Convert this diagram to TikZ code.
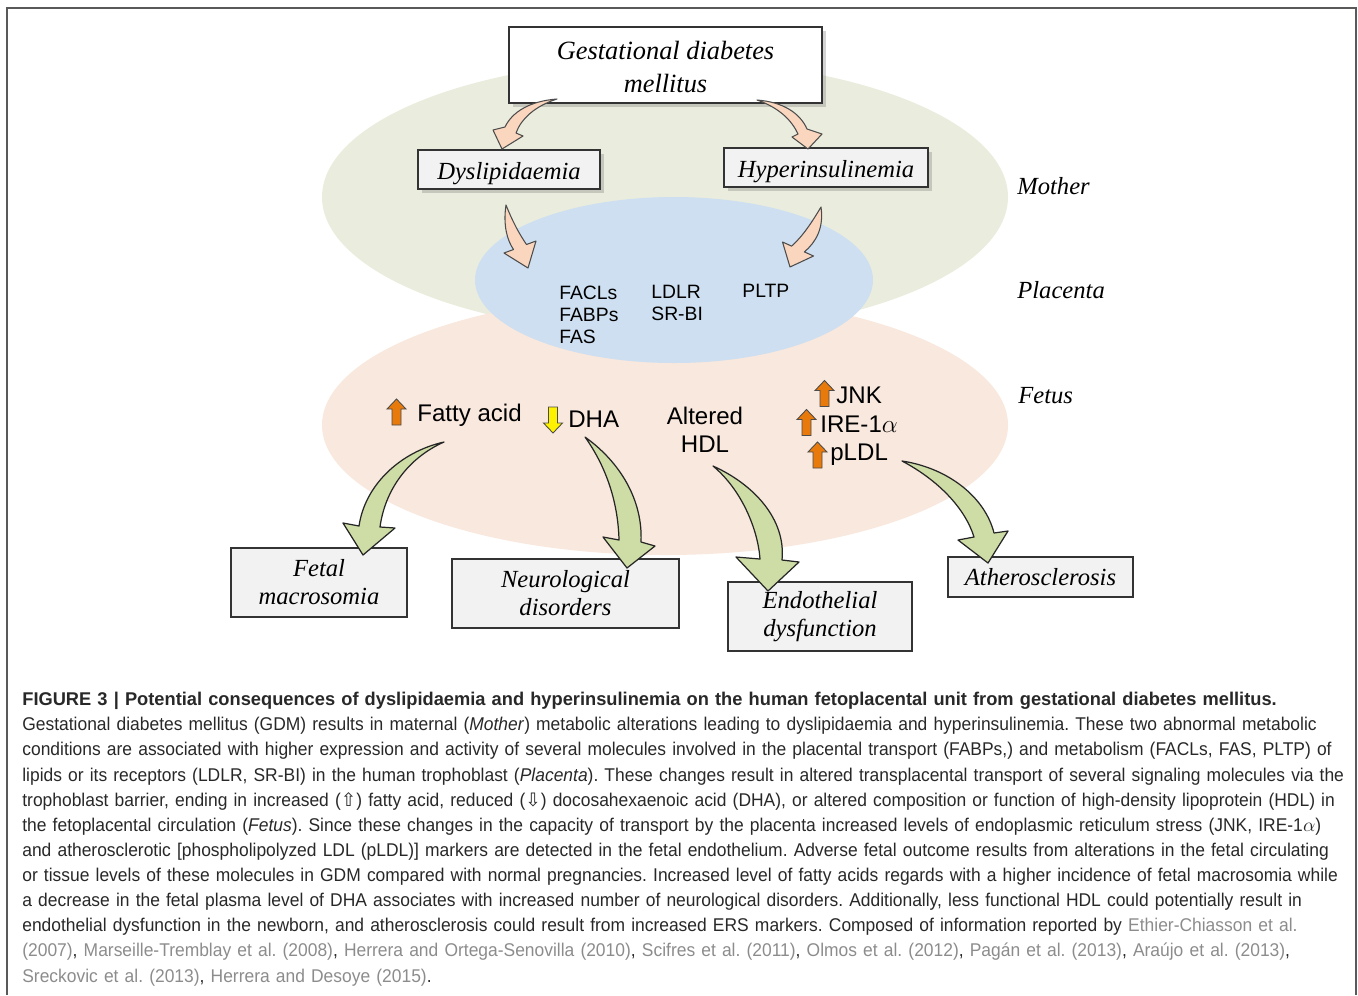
\documentclass[tikz,border=0pt]{standalone}
\usepackage{fontspec}
\setmainfont{Liberation Serif}
\setsansfont{Liberation Sans}
\newfontfamily\capfont[FakeStretch=0.945]{Liberation Sans}
\newfontfamily\capbold[FakeStretch=0.99]{Liberation Sans Bold}
\newfontfamily\symbfont{DejaVu Sans}
\usetikzlibrary{shadows}
\definecolor{motherbg}{RGB}{234,237,221}
\definecolor{fetusbg}{RGB}{249,232,221}
\definecolor{placentabg}{RGB}{205,223,240}
\definecolor{peachfill}{RGB}{250,214,190}
\definecolor{greenfill}{RGB}{206,220,166}
\definecolor{upcol}{RGB}{232,122,12}
\definecolor{refgray}{RGB}{140,140,140}
\definecolor{captext}{RGB}{40,40,40}
\newlength{\px}\setlength{\px}{0.02cm}
\newcommand{\rf}[1]{\textcolor{refgray}{#1}}
\newcommand{\lowtext}[2]{\raisebox{-#1}[9pt][3pt]{#2}}

\tikzset{
  boxshadow/.style={drop shadow={opacity=0.35,shadow xshift=2.5pt,shadow yshift=-2.5pt}},
  gdmbox/.style={draw=black!80, fill=white, line width=0.8pt, align=center, boxshadow,
    font=\fontsize{15}{18.8}\selectfont\itshape, minimum width=313\px, minimum height=76\px},
  midbox/.style={draw=black!80, fill=black!5, line width=0.8pt, align=center, boxshadow,
    font=\fontsize{14}{16}\selectfont\itshape, minimum height=39\px},
  outbox/.style={draw=black!80, fill=black!5, line width=0.6pt, align=center,
    font=\fontsize{14}{16}\selectfont\itshape, minimum height=69\px},
  sidelabel/.style={anchor=west, inner sep=0pt, font=\fontsize{14}{16}\selectfont\itshape},
  molsmall/.style={inner sep=0pt, align=left, font=\sffamily\fontsize{11}{12.5}\selectfont},
  molbig/.style={inner sep=0pt, align=center, font=\sffamily\fontsize{13.7}{16}\selectfont},
  peachflow/.style={fill=peachfill, draw=black!70, line width=0.6pt, line join=round},
  greenflow/.style={fill=greenfill, draw=black!85, line width=0.7pt, line join=round},
  upblock/.pic={\filldraw[pic actions] (0,-13) -- (9.5,-3) -- (4.5,-3) -- (4.5,13)
    -- (-4.5,13) -- (-4.5,-3) -- (-9.5,-3) -- cycle;}
}

\begin{document}
\begin{tikzpicture}[x=0.02cm, y=-0.02cm]
\useasboundingbox (0,0) rectangle (1358,995);
% frame
\draw[black!65, line width=1pt] (7,995) -- (7,8) -- (1356,8) -- (1356,995);

% compartments
\fill[motherbg] (665,197) ellipse [x radius=343, y radius=137];
\fill[fetusbg] (665,425) ellipse [x radius=343, y radius=130];
\fill[placentabg] (674,280) ellipse [x radius=199, y radius=83];

\node[sidelabel] (mother) at (1017,186) {Mother};
\node[sidelabel] (placenta) at (1017,290) {Placenta};
\node[sidelabel] (fetus) at (1018,396) {Fetus};

% mother level
\node[gdmbox] (gdm) at (665.5,65) {\strut Gestational diabetes\\mellitus};
\node[midbox, minimum width=182\px] (dysl) at (509,169.5) {\lowtext{2.8pt}{Dyslipidaemia}};
\node[midbox, minimum width=204\px] (hyper) at (826,167.5) {\lowtext{2.8pt}{Hyperinsulinemia}};

\filldraw[peachflow] (557,99) .. controls (530,101) and (512,112) .. (505,127) -- (493,130)
  -- (502,149) -- (523,136) -- (516,133) .. controls (521,119) and (535,106) .. (557,99) -- cycle;
\filldraw[peachflow] (757,100) .. controls (783,102) and (800,113) .. (807,129) -- (822,134)
  -- (808,149) -- (792,137) -- (798,134) .. controls (792,121) and (780,108) .. (757,100) -- cycle;
\filldraw[peachflow] (506,205) .. controls (503,225) and (507,240) .. (513.5,249.5) -- (504,253)
  -- (528,268) -- (536,241) -- (526.5,244.5) .. controls (518,232) and (512,220) .. (506,205) -- cycle;
\filldraw[peachflow] (821,207) .. controls (824,228) and (816,242) .. (804.4,251.9) -- (813.5,256)
  -- (790,267) -- (782.5,242) -- (791.6,246.1) .. controls (803,236) and (812,222) .. (821,207) -- cycle;

% placenta
\node[molsmall, anchor=west] (fa) at (559,314.5) {FACLs\\FABPs\\FAS};
\node[molsmall, anchor=west] (ldlr) at (651,303) {LDLR\\SR-BI};
\node[molsmall, anchor=west] (pltp) at (742,291) {PLTP};

% fetus
\pic[fill=upcol, draw=black!70, line width=0.5pt] at (396.5,412) {upblock};
\node[molbig, anchor=west] (fatty) at (417,415) {Fatty acid};
\pic[fill=yellow, draw=black!70, line width=0.5pt, rotate=180] at (553,420) {upblock};
\node[molbig, anchor=west] (dha) at (568,419) {DHA};
\node[molbig] (hdl) at (705,430) {Altered\\HDL};
\pic[fill=upcol, draw=black!70, line width=0.5pt] at (824.5,393.5) {upblock};
\node[molbig, anchor=west] (jnk) at (836,395) {JNK};
\pic[fill=upcol, draw=black!70, line width=0.5pt] at (806.5,422.5) {upblock};
\node[molbig, anchor=west] (ire) at (820,424) {IRE-1$\alpha$};
\pic[fill=upcol, draw=black!70, line width=0.5pt] at (817.5,455) {upblock};
\node[molbig, anchor=west] (pldl) at (830,455) {pLDL};

% outcomes
\node[outbox, minimum width=176\px] (macro) at (319,582.5) {Fetal\\macrosomia};
\node[outbox, minimum width=227\px] (neuro) at (565.5,593.5) {Neurological\\disorders};
\node[outbox, minimum width=184\px] (endo) at (820,616.5) {Endothelial\\dysfunction};
\node[outbox, minimum width=185\px, minimum height=40\px] (athero) at (1040.5,577) {\lowtext{1.7pt}{Atherosclerosis}};

\filldraw[greenflow] (444,442) .. controls (400,452) and (365,485) .. (359,526) -- (343,523)
  -- (363,555) -- (395,528) -- (380,527) .. controls (385,490) and (408,458) .. (444,442) -- cycle;
\filldraw[greenflow] (585,437) .. controls (620,462) and (643,500) .. (641,542) -- (655,546)
  -- (627,568) -- (603,537) -- (619,540) .. controls (618,500) and (605,465) .. (585,437) -- cycle;
\filldraw[greenflow] (713,466) .. controls (755,485) and (786,520) .. (782,560) -- (799,562)
  -- (768,591) -- (736,557) -- (760,559) .. controls (758,530) and (742,490) .. (713,466) -- cycle;
\filldraw[greenflow] (902,461) .. controls (948,468) and (985,497) .. (994,533) -- (1008,531)
  -- (988,563) -- (958,540) -- (974,537) .. controls (965,508) and (938,480) .. (902,461) -- cycle;

% caption
\node[anchor=north west, inner sep=0pt, text width=1340\px, align=left, text=captext,
  font=\capfont\fontsize{10.5}{14.3}\selectfont\frenchspacing] (caption) at (22,692) {%
{\capbold FIGURE 3 | Potential consequences of dyslipidaemia and hyperinsulinemia on the human fetoplacental unit from gestational diabetes mellitus.}\\
Gestational diabetes mellitus (GDM) results in maternal (\textit{Mother}) metabolic alterations leading to dyslipidaemia and hyperinsulinemia. These two abnormal metabolic\\
conditions are associated with higher expression and activity of several molecules involved in the placental transport (FABPs,) and metabolism (FACLs, FAS, PLTP) of\\
lipids or its receptors (LDLR, SR-BI) in the human trophoblast (\textit{Placenta}). These changes result in altered transplacental transport of several signaling molecules via the\\
trophoblast barrier, ending in increased ({\symbfont ⇧}) fatty acid, reduced ({\symbfont ⇩}) docosahexaenoic acid (DHA), or altered composition or function of high-density lipoprotein (HDL) in\\
the fetoplacental circulation (\textit{Fetus}). Since these changes in the capacity of transport by the placenta increased levels of endoplasmic reticulum stress (JNK, IRE-1$\alpha$)\\
and atherosclerotic [phospholipolyzed LDL (pLDL)] markers are detected in the fetal endothelium. Adverse fetal outcome results from alterations in the fetal circulating\\
or tissue levels of these molecules in GDM compared with normal pregnancies. Increased level of fatty acids regards with a higher incidence of fetal macrosomia while\\
a decrease in the fetal plasma level of DHA associates with increased number of neurological disorders. Additionally, less functional HDL could potentially result in\\
endothelial dysfunction in the newborn, and atherosclerosis could result from increased ERS markers. Composed of information reported by \rf{Ethier-Chiasson et al.}\\
\rf{(2007)}, \rf{Marseille-Tremblay et al. (2008)}, \rf{Herrera and Ortega-Senovilla (2010)}, \rf{Scifres et al. (2011)}, \rf{Olmos et al. (2012)}, \rf{Pagán et al. (2013)}, \rf{Araújo et al. (2013)},\\
\rf{Sreckovic et al. (2013)}, \rf{Herrera and Desoye (2015)}.};
\end{tikzpicture}
\end{document}
